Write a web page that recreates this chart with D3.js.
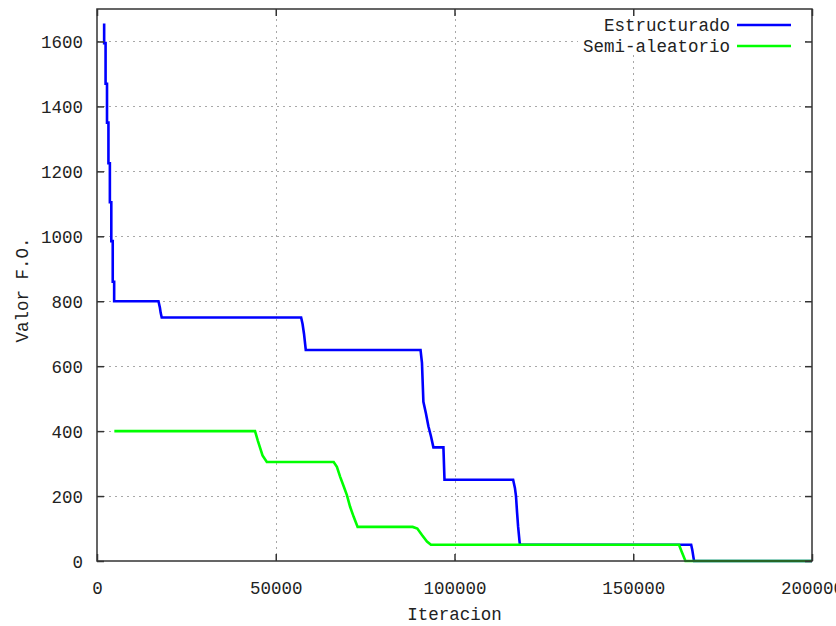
<!DOCTYPE html>
<html>
<head>
<meta charset="utf-8">
<script src="https://d3js.org/d3.v7.min.js"></script>
<style>
  html, body { margin: 0; padding: 0; background: #fff; }
  svg { display: block; }
  text { font-family: "Liberation Mono", "DejaVu Sans Mono", monospace; fill: #222; }
</style>
</head>
<body>
<script>
// ---- data ----
const xTicks = [0, 50000, 100000, 150000, 200000];
const yTicks = [0, 200, 400, 600, 800, 1000, 1200, 1400, 1600];
const seriesNames = ["Estructurado", "Semi-aleatorio"];
const seriesColors = ["#0000ff", "#00ff00"];

const estructuradoX = [2000, 2000, 2400, 2400, 2800, 2800, 3200, 3200, 3600, 3600, 4000, 4000, 4400, 4400, 4800, 4800,
  17200, 17600, 17800, 18100,
  57100, 57500, 57900, 58400,
  90500, 90900, 91300, 92000, 92700, 93400, 94100, 96900, 97200,
  116400, 116900, 117200, 117500, 117800, 118200, 118300,
  166200, 166500, 167000, 200000];
const estructuradoY = [1655, 1595, 1595, 1470, 1470, 1350, 1350, 1225, 1225, 1105, 1105, 985, 985, 860, 860, 800,
  800, 780, 765, 750,
  750, 730, 700, 650,
  650, 610, 490, 455, 415, 385, 350, 350, 250,
  250, 225, 200, 150, 105, 60, 50,
  50, 35, 0, 0];

const semiX = [4850, 44200, 45000, 46300, 47500,
  66200, 67100, 68000, 69000, 69900, 70800, 71800, 72900,
  88300, 89600, 90900, 92300, 93400,
  162800, 163500, 164600, 200000];
const semiY = [400, 400, 370, 325, 305,
  305, 290, 260, 230, 203, 167, 136, 105,
  105, 100, 80, 60, 50,
  50, 30, 0, 0];

// ---- drawing ----
(function () {
const W = 836, H = 626;
const svg = d3.select("body").append("svg").attr("width", W).attr("height", H);

const x = d3.scaleLinear().domain([0, 200000]).range([97, 812]);
const y = d3.scaleLinear().domain([0, 1700]).range([561, 9]);

const fontSize = "17.5px";

// grid
const grid = svg.append("g").attr("stroke", "#a8a8a8").attr("stroke-width", 1).attr("stroke-dasharray", "2,4");
yTicks.filter(v => v > 0).forEach(v => {
  grid.append("line").attr("x1", x(0)).attr("x2", x(200000)).attr("y1", Math.round(y(v)) + 0.5).attr("y2", Math.round(y(v)) + 0.5);
});
xTicks.filter(v => v > 0 && v < 200000).forEach(v => {
  grid.append("line").attr("y1", y(0)).attr("y2", y(1700)).attr("x1", Math.round(x(v)) + 0.5).attr("x2", Math.round(x(v)) + 0.5);
});

// legend background (hides grid behind key)
svg.append("rect").attr("x", 578).attr("y", 13).attr("width", 224).attr("height", 42).attr("fill", "#fff");

// series lines
const line = d3.line().x(d => x(d[0])).y(d => y(d[1]));
const blueData = d3.zip(estructuradoX, estructuradoY);
const greenData = d3.zip(semiX, semiY);
[blueData, greenData].forEach((data, i) => {
  svg.append("path").datum(data)
    .attr("d", line)
    .attr("fill", "none")
    .attr("stroke", seriesColors[i])
    .attr("stroke-width", 2.6)
    .attr("stroke-linejoin", "miter");
});

// border
svg.append("rect").attr("x", x(0)).attr("y", y(1700)).attr("width", x(200000) - x(0)).attr("height", y(0) - y(1700))
  .attr("fill", "none").attr("stroke", "#333").attr("stroke-width", 1.5);

// axes ticks (bottom/left with labels; top/right mirror ticks)
const tickLen = 7;
const gBottom = svg.append("g").attr("transform", `translate(0,${y(0)})`)
  .call(d3.axisBottom(x).tickValues(xTicks).tickSize(-tickLen).tickFormat(d3.format("d")).tickPadding(tickLen + 14));
const gLeft = svg.append("g").attr("transform", `translate(${x(0)},0)`)
  .call(d3.axisLeft(y).tickValues(yTicks).tickSize(-tickLen).tickFormat(d3.format("d")).tickPadding(14));
const gTop = svg.append("g").attr("transform", `translate(0,${y(1700)})`)
  .call(d3.axisTop(x).tickValues(xTicks).tickSize(-tickLen).tickFormat(""));
const gRight = svg.append("g").attr("transform", `translate(${x(200000)},0)`)
  .call(d3.axisRight(y).tickValues(yTicks).tickSize(-tickLen).tickFormat(""));
[gBottom, gLeft, gTop, gRight].forEach(g => {
  g.select(".domain").remove();
  g.selectAll(".tick line").attr("stroke", "#333").attr("stroke-width", 1.5);
  g.selectAll("text").attr("font-size", fontSize).attr("fill", "#222")
    .attr("font-family", '"Liberation Mono", monospace');
});
gLeft.selectAll("text").attr("dy", "0.35em");

// axis titles
svg.append("text").attr("x", (x(0) + x(200000)) / 2).attr("y", 620)
  .attr("text-anchor", "middle").attr("font-size", fontSize).text("Iteracion");
svg.append("text").attr("transform", `translate(28,${(y(0) + y(1700)) / 2 + 5}) rotate(-90)`)
  .attr("text-anchor", "middle").attr("font-size", fontSize).text("Valor F.O.");

// legend
const legY = [25, 46];
seriesNames.forEach((name, i) => {
  svg.append("text").attr("x", 730).attr("y", legY[i]).attr("dy", "0.35em")
    .attr("text-anchor", "end").attr("font-size", fontSize).text(name);
  svg.append("line").attr("x1", 737).attr("x2", 791).attr("y1", legY[i]).attr("y2", legY[i])
    .attr("stroke", seriesColors[i]).attr("stroke-width", 2.6);
});
})();
</script>
</body>
</html>
